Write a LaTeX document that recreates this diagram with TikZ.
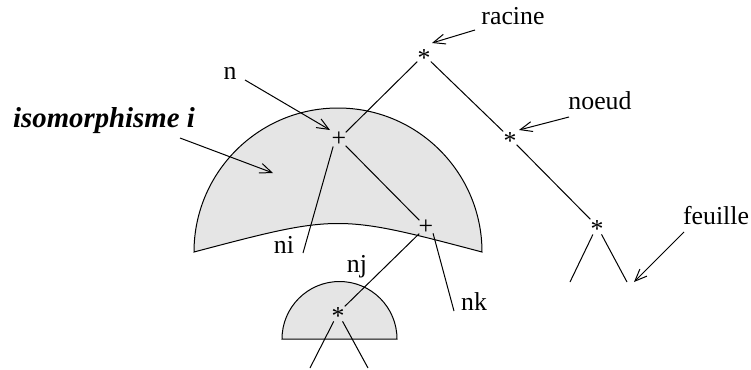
\documentclass[tikz,border=0pt]{standalone}
\usepackage{fontspec}
\setmainfont{Liberation Serif}
\usetikzlibrary{arrows.meta}
\begin{document}
\begin{tikzpicture}[x=0.5pt,y=-0.5pt,line width=0.5pt,
  txt/.style={font=\fontsize{12.9pt}{15pt}\selectfont,inner sep=0pt},
  vert/.style={circle,inner sep=0pt,minimum size=9pt},
  astglyph/.style={txt,yshift=-1.7pt},
  ptr/.style={-{Straight Barb[length=6pt,width=5pt]}},
  region/.style={draw,fill=gray!20}]
\useasboundingbox (0,0) rectangle (751,370);
% shaded regions
\draw[region] (194,252) arc (180:360:144) .. controls (338,214) .. cycle;
\draw[region] (282,339) arc (180:360:57.5) -- cycle;
% vertices
\node[vert] (r) at (424,55) {};
\node[vert] (no) at (510,138) {};
\node[vert] (f) at (597,226) {};
\node[vert] (p1) at (339,139) {};
\node[vert] (p2) at (426,227) {};
\node[vert] (s) at (338,313) {};
\node[astglyph] (rg) at (r) {*};
\node[astglyph] (nog) at (no) {*};
\node[astglyph] (fg) at (f) {*};
\node[astglyph] (sg) at (s) {*};
\node[txt] (p1g) at (p1) {+};
\node[txt] (p2g) at (p2) {+};
% free ends
\coordinate (fl) at (570,282);
\coordinate (fr) at (627,282);
\coordinate (niend) at (303,253);
\coordinate (nkend) at (454,311);
\coordinate (sl) at (310,368);
\coordinate (sr) at (368,368);
% tree edges
\draw (r) -- (p1);
\draw (r) -- (no);
\draw (no) -- (f);
\draw (f) -- (fl);
\draw (f) -- (fr);
\draw (p1) -- (p2);
\draw (p1.-128) -- (niend);
\draw (p2.-42) -- (nkend);
\draw (p2) -- (s);
\draw (s) -- (sl);
\draw (s) -- (sr);
% labels
\node[txt] (lr) at (513,16) {racine};
\node[txt] (lno) at (600,101) {noeud};
\node[txt] (lf) at (716,216) {feuille};
\node[txt] (ln) at (230,73) {n};
\node[txt,font=\fontsize{14.4pt}{17pt}\selectfont\bfseries\itshape] (liso) at (104,121) {isomorphisme i};
\node[txt] (lni) at (284,245) {ni};
\node[txt] (lnj) at (357,267) {nj};
\node[txt] (lnk) at (474,302) {nk};
% pointers
\coordinate (ar) at (432,43);
\coordinate (ano) at (519,130);
\coordinate (af) at (634,282);
\coordinate (an) at (330,130);
\coordinate (aiso) at (273,173);
\draw[ptr] (475,30) -- (ar);
\draw[ptr] (569,117) -- (ano);
\draw[ptr] (684,232) -- (af);
\draw[ptr] (245,80) -- (an);
\draw[ptr] (180,138) -- (aiso);
\end{tikzpicture}
\end{document}
